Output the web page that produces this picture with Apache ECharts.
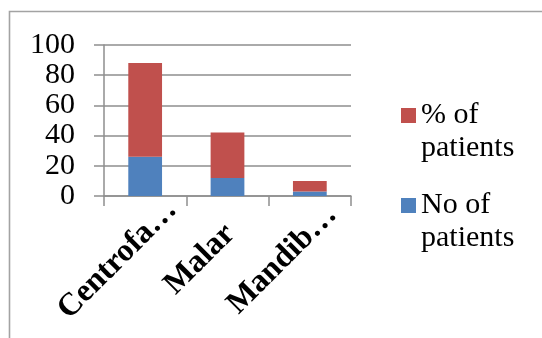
<!DOCTYPE html>
<html>
<head>
<meta charset="utf-8">
<style>
  html, body { margin: 0; padding: 0; background: #fff; }
  #chart { width: 542px; height: 338px; }
</style>
<script src="https://cdn.jsdelivr.net/npm/echarts@6/dist/echarts.min.js"></script>
</head>
<body>
<div id="chart"></div>
<script>
// Fracture sites and the patient counts / shares for each
const categories = ['Centrofacial', 'Malar', 'Mandibular'];
const tickLabels = ['Centrofa…', 'Malar', 'Mandib…'];
const noOfPatients = [26, 12, 3];
const pctOfPatients = [62, 30, 7];
const yTicks = { min: 0, max: 100, interval: 20 };

const serif = 'Liberation Serif, Times New Roman, serif';
const gridColor = '#8e8e8e';

const chart = echarts.init(document.getElementById('chart'), null, { renderer: 'canvas' });

chart.setOption({
  animation: false,
  backgroundColor: '#fff',
  graphic: [{
    type: 'rect',
    shape: { x: 9.5, y: 11.5, width: 600, height: 400 },
    style: { fill: 'none', stroke: '#a3a3a3', lineWidth: 1.6 },
    silent: true
  }],
  grid: { left: 104, right: 191, top: 45, bottom: 142 },
  legend: {
    orient: 'vertical',
    left: 401,
    top: 66,
    padding: 0,
    itemGap: -9,
    itemWidth: 15,
    itemHeight: 15,
    icon: 'rect',
    data: ['% of patients', 'No of patients'],
    // an empty first line keeps the swatch level with the first text line
    formatter: name => '\n' + name.replace(' of ', ' of\n'),
    textStyle: {
      fontFamily: serif,
      fontSize: 30,
      lineHeight: 33,
      color: '#000'
    }
  },
  xAxis: {
    type: 'category',
    data: categories,
    axisLine: { show: true, lineStyle: { color: gridColor, width: 1.5 } },
    axisTick: { show: true, length: 10, alignWithLabel: false, lineStyle: { color: gridColor, width: 1.5 } },
    axisLabel: {
      interval: 0,
      rotate: 45,
      align: 'center',
      verticalAlign: 'middle',
      margin: 36,
      formatter: (value, idx) => '{t|' + tickLabels[idx] + '}{g| }',
      rich: {
        t: { fontFamily: serif, fontWeight: 'bold', fontSize: 32, color: '#000' },
        g: { width: 78, fontSize: 32 }
      }
    }
  },
  yAxis: {
    type: 'value',
    min: yTicks.min,
    max: yTicks.max,
    interval: yTicks.interval,
    axisLine: { show: true, lineStyle: { color: gridColor, width: 1.5 } },
    axisTick: { show: true, length: 10, lineStyle: { color: gridColor, width: 1.5 } },
    splitLine: { show: true, lineStyle: { color: gridColor, width: 1.5 } },
    axisLabel: {
      margin: 29,
      fontFamily: serif,
      fontSize: 30,
      color: '#000'
    }
  },
  series: [
    {
      name: 'No of patients',
      type: 'bar',
      stack: 'total',
      barWidth: '41%',
      itemStyle: { color: '#4F81BD' },
      data: noOfPatients
    },
    {
      name: '% of patients',
      type: 'bar',
      stack: 'total',
      barWidth: '41%',
      itemStyle: { color: '#C0504D' },
      data: pctOfPatients
    }
  ]
});
</script>
</body>
</html>
